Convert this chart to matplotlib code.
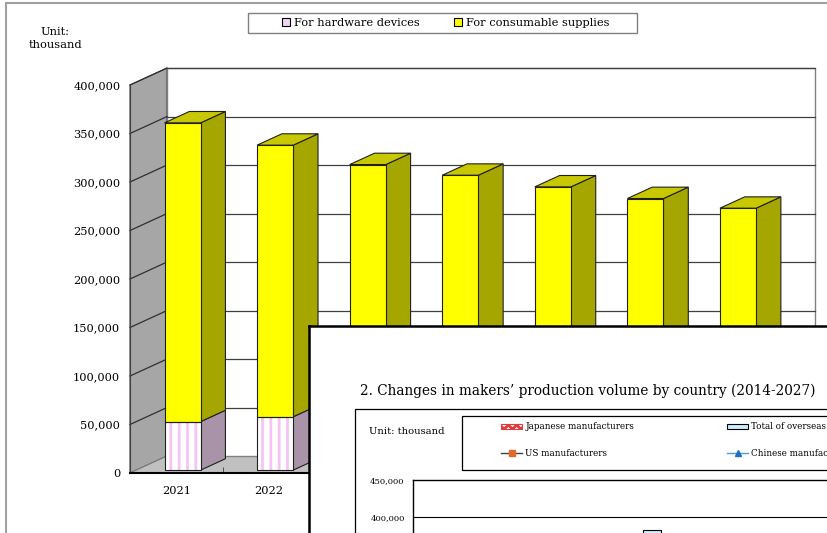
import numpy as np
import matplotlib
matplotlib.use("Agg")
import matplotlib.pyplot as plt
from matplotlib.patches import Polygon, Rectangle, Patch
from matplotlib.lines import Line2D

plt.rcParams['font.family'] = ['DejaVu Serif']
plt.rcParams['hatch.linewidth'] = 2.0

# main chart data (unit: thousand pcs)
years = ['2021', '2022', '2023', '2024', '2025', '2026', '2027']
hardware = [50000, 55000, 57000, 58000, 59000, 60000, 61000]   # 2023+ hidden behind the inset, estimated
consumable = [308000, 280000, 258000, 246000, 233000, 220000, 209000]
yticks = list(range(0, 400001, 50000))

# overlapping second chart, only the part that shows
inset_years = [str(y) for y in range(2014, 2028)]
overseas_total = [np.nan] * 5 + [383000] + [np.nan] * 8
inset_yticks = [400000, 450000]

W, H = 828, 533
def fx(x):
    return x / W
def fy(y):
    return 1 - y / H

fig = plt.figure(figsize=(W / 100, H / 100), dpi=100)
fig.patch.set_facecolor('white')

# outer frame of the first chart
fig.add_artist(Rectangle((fx(6), -0.05), 1, fy(3) + 0.05, transform=fig.transFigure,
                         fill=False, ec='#a0a0a0', lw=1.5, zorder=0))

ax = fig.add_axes([fx(130), fy(473), 648 / W, 388 / H])
ax.set_xlim(-0.5, 6.5)
ax.set_ylim(0, 400000)
ax.patch.set_alpha(0)

DX, DY = 0.4, 17500     # depth of the 3d box in data units
x0, x1 = -0.5, 6.5
ymax = 400000

# walls and floor
ax.add_patch(Polygon([(x0, 0), (x0 + DX, DY), (x0 + DX, ymax + DY), (x0, ymax)],
                     fc='#a6a6a6', ec='#404040', lw=0.8, clip_on=False, zorder=1))
ax.add_patch(Polygon([(x0, 0), (x1, 0), (x1 + DX, DY), (x0 + DX, DY)],
                     fc='#c0c0c0', ec='#808080', lw=0.8, clip_on=False, zorder=1))
ax.add_patch(Rectangle((x0 + DX, DY), x1 - x0, ymax, fc='white', ec='#808080',
                       lw=1.0, clip_on=False, zorder=1))
for v in yticks[1:]:
    ax.plot([x0 + DX, x1 + DX], [v + DY, v + DY], color='#404040', lw=0.9, clip_on=False, zorder=1.5)
    ax.plot([x0, x0 + DX], [v, v + DY], color='#303030', lw=0.9, clip_on=False, zorder=1.5)

# 3d columns
BW = 0.39
d0, d1 = 0.17, 0.84
def box(xc, b, t, front, side, top=None, hatch=None):
    a, c = xc - BW / 2, xc + BW / 2
    fr = [(a + d0 * DX, b + d0 * DY), (c + d0 * DX, b + d0 * DY),
          (c + d0 * DX, t + d0 * DY), (a + d0 * DX, t + d0 * DY)]
    sd = [(c + d0 * DX, b + d0 * DY), (c + d1 * DX, b + d1 * DY),
          (c + d1 * DX, t + d1 * DY), (c + d0 * DX, t + d0 * DY)]
    ax.add_patch(Polygon(sd, fc=side, ec='#202020', lw=0.8, clip_on=False, zorder=2))
    if top is not None:
        tp = [(a + d0 * DX, t + d0 * DY), (c + d0 * DX, t + d0 * DY),
              (c + d1 * DX, t + d1 * DY), (a + d1 * DX, t + d1 * DY)]
        ax.add_patch(Polygon(tp, fc=top, ec='#202020', lw=0.8, clip_on=False, zorder=2))
    if hatch:
        ax.add_patch(Polygon(fr, fc=front, ec='#f5c3f5', hatch=hatch, lw=0, clip_on=False, zorder=2))
        ax.add_patch(Polygon(fr, fill=False, ec='#202020', lw=0.8, clip_on=False, zorder=2.1))
    else:
        ax.add_patch(Polygon(fr, fc=front, ec='#202020', lw=0.8, clip_on=False, zorder=2))

for i in range(len(years)):
    box(i, 0, hardware[i], 'white', '#a893a8', hatch='||')
    box(i, hardware[i], hardware[i] + consumable[i], '#ffff00', '#a6a600', top='#c8c800')

for s in ['top', 'right']:
    ax.spines[s].set_visible(False)
ax.spines['left'].set_color('#404040')
ax.spines['bottom'].set_linewidth(1.5)
ax.spines['bottom'].set_zorder(3)
ax.set_yticks(yticks)
ax.set_yticklabels([f'{v:,}' for v in yticks], fontsize=8.2)
ax.set_xticks(range(len(years)))
ax.set_xticklabels(years, fontsize=8.2)
ax.set_xticks(np.arange(-0.5, 7, 1), minor=True)
ax.tick_params(axis='y', length=0, pad=7)
ax.tick_params(axis='x', which='major', length=0, pad=9)
ax.tick_params(axis='x', which='minor', direction='in', length=4, color='#404040')

fig.text(fx(55), fy(38.5), 'Unit:\nthousand', ha='center', va='center', fontsize=8.2, linespacing=1.3)

fig.add_artist(Rectangle((fx(248), fy(33)), 389 / W, 20 / H, transform=fig.transFigure,
                         fill=False, ec='#808080', lw=1.0))
fig.legend([Patch(fc='#f4d4f4', ec='black', lw=0.8), Patch(fc='#ffff00', ec='black', lw=0.8)],
           ['For hardware devices', 'For consumable supplies'],
           loc='center', bbox_to_anchor=(fx(446), fy(23)), ncol=2, frameon=False, fontsize=8.2,
           handlelength=0.7, handleheight=0.7, handletextpad=0.35, columnspacing=3.0, borderpad=0)

# ---- second chart pasted on top ----
ax2 = fig.add_axes([fx(309), -0.2, 0.7, fy(326) + 0.2], zorder=5)
ax2.set_xticks([])
ax2.set_yticks([])
for s in ax2.spines.values():
    s.set_color('black')
    s.set_linewidth(1.8)

fig.text(fx(360), fy(391), '2. Changes in makers\u2019 production volume by country (2014-2027)',
         ha='left', va='center', fontsize=9.8, zorder=7)
fig.add_artist(Rectangle((fx(355), -0.1), 1, fy(409) + 0.1, transform=fig.transFigure,
                         fill=False, ec='black', lw=0.9, zorder=7))
fig.text(fx(369), fy(431), 'Unit: thousand', ha='left', va='center', fontsize=7.2, zorder=7)
fig.add_artist(Rectangle((fx(462), fy(470)), 1, 54 / H, transform=fig.transFigure,
                         fill=False, ec='black', lw=0.9, zorder=7))

h_jp = Patch(fc='white', ec='#e03c3c', hatch='xxxx', lw=0.8)
h_os = Patch(fc='#cceeff', ec='black', lw=0.8)
h_us = Line2D([], [], color='#404040', lw=1, marker='s', ms=4, mfc='#e06a2a', mec='#e06a2a')
h_cn = Line2D([], [], color='#4a9bdb', lw=1, marker='^', ms=4, mfc='#1f6dc0', mec='#1f6dc0')
leg = fig.legend([h_jp, h_us, h_os, h_cn],
                 ['Japanese manufacturers', 'US manufacturers', 'Total of overseas manufacturers',
                  'Chinese manufacturers'],
                 ncol=2, loc='upper left', bbox_to_anchor=(fx(497), fy(418)), frameon=False,
                 borderpad=0, fontsize=6.3, handlelength=2.4, handleheight=0.55,
                 handletextpad=0.35, labelspacing=2.0, columnspacing=10.6)
leg.set_zorder(8)

ax3 = fig.add_axes([fx(413), fy(480 + 450 * 0.74), 14 * 43.5 / W, 450 * 0.74 / H], zorder=6)
ax3.set_xlim(-0.5, 13.5)
ax3.set_ylim(0, 450000)
ax3.bar(range(len(inset_years)), overseas_total, width=0.41, color='#cceeff', ec='black', lw=0.8, zorder=2)
for v in range(50000, 450000, 50000):
    ax3.axhline(v, color='black', lw=0.8, zorder=1)
ax3.set_yticks(inset_yticks)
ax3.set_yticklabels([f'{v:,}' for v in inset_yticks], fontsize=6)
ax3.tick_params(axis='y', length=0, pad=6)
ax3.set_xticks([])
for s in ax3.spines.values():
    s.set_color('black')
    s.set_linewidth(1.0)

fig.savefig('out.png', dpi=100)
